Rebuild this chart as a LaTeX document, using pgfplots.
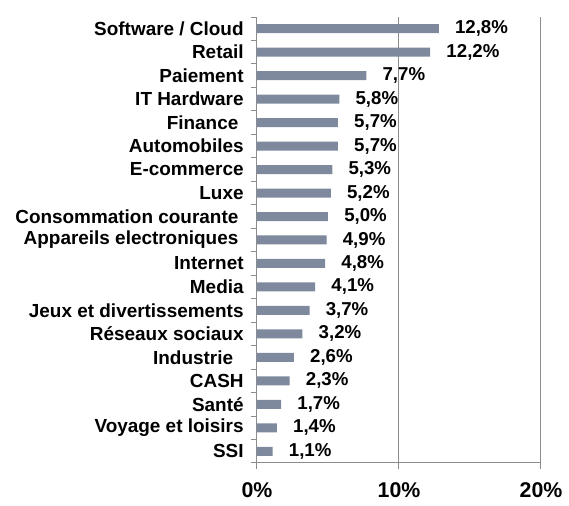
\documentclass[border=0pt]{standalone}
\usepackage{pgfplots}
\pgfplotsset{compat=1.18}
\usepackage{fontspec}
\setmainfont{Liberation Sans}
\definecolor{barc}{HTML}{7E899D}
\definecolor{axc}{HTML}{8C8C8C}
\newcommand{\trsp}{\hspace*{0.278em}}
\begin{document}
\begin{tikzpicture}
\begin{axis}[
  at={(0,0)}, anchor=south west,
  scale only axis, width=213pt, height=334.5pt,
  xbar, bar width=6.75pt,
  xmin=0, xmax=20, ymin=-0.5, ymax=18.5, y dir=reverse,
  axis x line*=bottom, axis y line*=left,
  axis line style={axc, line width=0.75pt},
  xtick={0,10,20}, xticklabels={0\%,10\%,20\%},
  minor xtick={0,10,20},
  ytick={0,...,18},
  minor ytick={-0.5,0.5,...,18.5},
  yticklabels={Software / Cloud, Retail, Paiement, IT Hardware, {Finance\trsp}, Automobiles, E-commerce, Luxe, {Consommation courante\trsp}, {Appareils electroniques\trsp}, Internet, Media, Jeux et divertissements, Réseaux sociaux, {Industrie\trsp\trsp}, CASH, Santé, Voyage et loisirs, SSI},
  tick align=outside, major tick length=0pt, minor tick length=4.5pt,
  tick style={axc, line width=0.75pt},
  xmajorgrids, major grid style={axc, line width=0.75pt},
  /pgf/number format/assume math mode=true,
  yticklabel style={font=\bfseries\fontsize{14.2}{16}\selectfont, text=black, xshift=-6.5pt},
  xticklabel style={font=\bfseries\fontsize{16}{18}\selectfont, text=black, yshift=-11.5pt},
  point meta=x,
  nodes near coords={\pgfmathprintnumber[fixed,fixed zerofill,precision=1,use comma]{\pgfplotspointmeta}\%},
  nodes near coords style={font=\bfseries\fontsize{14}{16}\selectfont, text=black, anchor=west, inner sep=0pt, xshift=12pt},
]
\addplot[fill=barc, draw=none] coordinates {
(12.8,0) (12.2,1) (7.7,2) (5.8,3) (5.7,4) (5.7,5) (5.3,6) (5.2,7) (5.0,8) (4.9,9)
(4.8,10) (4.1,11) (3.7,12) (3.2,13) (2.6,14) (2.3,15) (1.7,16) (1.4,17) (1.1,18)};
\end{axis}
\path[use as bounding box] (-192.75pt,-32.25pt) rectangle (234pt,347.25pt);
\end{tikzpicture}
\end{document}
